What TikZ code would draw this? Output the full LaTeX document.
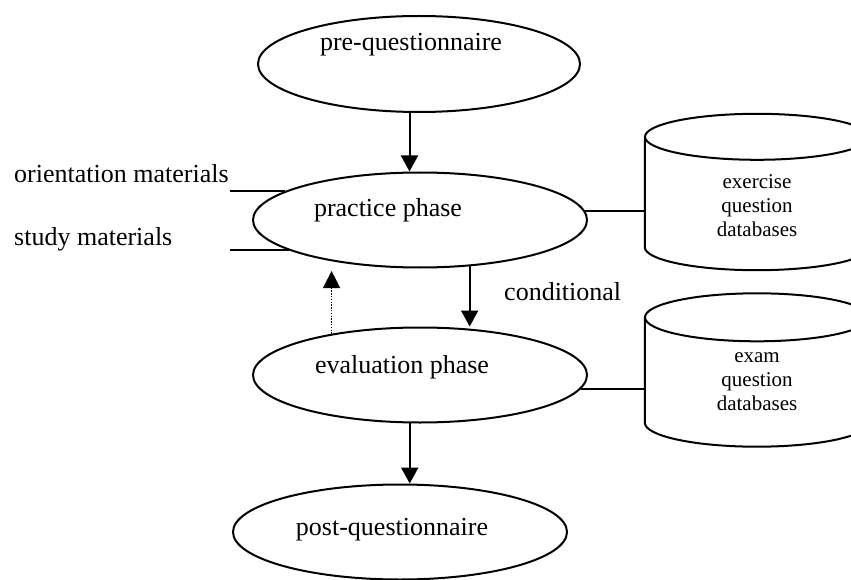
\documentclass[tikz,border=0pt]{standalone}
\usepackage{fontspec}
\setmainfont{Liberation Serif}
\usetikzlibrary{shapes.geometric,arrows.meta}

\begin{document}
\begin{tikzpicture}[x=1pt,y=-1pt,
  phase/.style={ellipse,draw,line width=2pt,minimum width=334pt,minimum height=95pt,inner sep=0pt},
  txt/.style={font=\fontsize{26}{30}\selectfont,inner sep=1pt},
  dbtxt/.style={font=\fontsize{21}{24}\selectfont,align=center},
  db/.style={minimum width=224pt,inner sep=0pt},
  link/.style={line width=1.8pt},
  flow/.style={line width=2pt,-{Triangle[length=16pt,width=17pt]}}]
\useasboundingbox (0,0) rectangle (851,580);
\clip (0,0) rectangle (851,580);
% phases
\node[phase,minimum width=322pt,minimum height=96pt,label={[txt,xshift=-8pt,yshift=19pt]center:pre-questionnaire}] (Pre) at (419,64) {};
\node[phase,label={[txt,xshift=-32pt,yshift=10pt]center:practice phase}] (Practice) at (420,220) {};
\node[phase,label={[txt,xshift=-18pt,yshift=8pt]center:evaluation phase}] (Eval) at (420,375) {};
\node[phase,label={[txt,xshift=-8pt,yshift=2pt]center:post-questionnaire}] (Post) at (400,532) {};
% materials
\node[txt,anchor=base west] (Orient) at (13,183) {orientation materials};
\node[txt,anchor=base west] (Study) at (13,245) {study materials};
\draw[link] (Orient.east |- Practice.168) -- (Practice.168);
\draw[link] (Orient.east |- Practice.193) -- (Practice.193);
% databases
\node[db,minimum height=110pt,label={[dbtxt,yshift=-14pt]center:exercise\\question\\databases}] (ExDB) at (757,192) {};
\draw[line width=2pt] (ExDB.north west) -- (ExDB.south west) arc[start angle=180,end angle=360,x radius=112pt,y radius=23pt] -- (ExDB.north east);
\draw[line width=2pt] (ExDB.north) ellipse[x radius=112pt,y radius=23pt];
\node[db,minimum height=105pt,label={[dbtxt,yshift=-12pt]center:exam\\question\\databases}] (ExamDB) at (757,370) {};
\draw[line width=2pt] (ExamDB.north west) -- (ExamDB.south west) arc[start angle=180,end angle=360,x radius=112pt,y radius=24pt] -- (ExamDB.north east);
\draw[line width=2pt] (ExamDB.north) ellipse[x radius=112pt,y radius=24pt];
\draw[link] (Practice.3) -- (Practice.3 -| ExDB.west);
\draw[link] (Eval.355.5) -- (Eval.355.5 -| ExamDB.west);
% flow
\draw[flow] (Pre.259.4) -- (Pre.259.4 |- Practice.north);
\draw[flow] (Practice.317.2) -- (Practice.317.2 |- Eval.north);
\node[txt,anchor=base west] (Cond) at (503,300) {conditional};
\draw[line width=1.4pt,dash pattern=on 1.4pt off 1.4pt,-{Triangle[length=17pt,width=17pt]},shorten >=2.5pt] (Eval.155.7) -- (Eval.155.7 |- Practice.south);
\draw[flow] (Eval.258.1) -- (Eval.258.1 |- Post.north);
\end{tikzpicture}
\end{document}
